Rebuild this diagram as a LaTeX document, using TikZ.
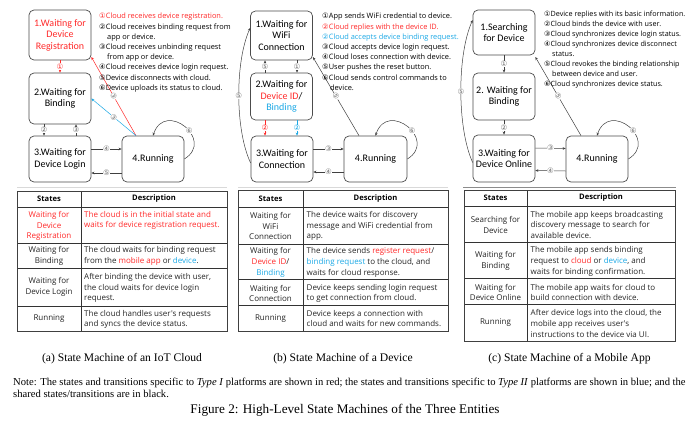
\documentclass[tikz,border=0pt]{standalone}
\usepackage{fontspec}
\setmainfont{Liberation Serif}
\newfontfamily\boxfont{Carlito}
\newfontfamily\tabfont{Open Sans}
\newfontfamily\symfont{DejaVu Sans}
\usetikzlibrary{calc,arrows.meta}
\definecolor{myred}{HTML}{FF2A2A}
\definecolor{myblue}{HTML}{1CA9E6}
\newcommand{\cnum}[1]{{\symfont #1}}
\newcommand{\rd}[1]{{\color{myred}#1}}
\newcommand{\bl}[1]{{\color{myblue}#1}}
\begin{document}
\begin{tikzpicture}[x=1pt,y=-1pt,
  state/.style={draw=black!70, line width=0.7pt, rounded corners=5pt, align=center,
    font=\boxfont\fontsize{10}{11.5}\selectfont, inner sep=0pt, minimum width=62pt},
  tr/.style={draw=black!75, line width=0.5pt, -{Stealth[length=3pt,width=2.6pt]}},
  trred/.style={tr, draw=myred},
  trblue/.style={tr, draw=myblue},
  lab/.style={font=\symfont\fontsize{7.5}{7.5}\selectfont, text=black!55, fill=white, inner sep=0.2pt},
  labred/.style={lab, text=myred},
  labblue/.style={lab, text=myblue},
  list/.style={font=\tabfont\fontsize{7.4}{10.2}\selectfont, align=left, inner sep=0pt, anchor=north west},
  tabouter/.style={draw=black!75, line width=1pt},
  tabinner/.style={draw=black!80, line width=0.5pt},
  tcell/.style={font=\tabfont\fontsize{8}{10.8}\selectfont, align=center, inner sep=0pt, text=black!85},
  tdesc/.style={tcell, align=left, anchor=west},
  thead/.style={font=\tabfont\bfseries\fontsize{7.6}{10.8}\selectfont, inner sep=0pt},
  sepline/.style={draw=black!15, line width=0.6pt},
  captxt/.style={font=\fontsize{11.6}{13}\selectfont, inner sep=0pt}
]
\fill[white] (0,0) rectangle (690,434);
\useasboundingbox (0,0) rectangle (690,434);

% ================= (a) =================
\node[state, minimum height=50pt, text=myred] (A1) at (60,35) {1.Waiting for\\Device\\Registration};
\node[state, minimum height=51pt] (A2) at (60,98.5) {2.Waiting for\\Binding};
\node[state, minimum height=46pt] (A3) at (60,159) {3.Waiting for\\Device Login};
\node[state, minimum height=46pt] (A4) at (153,159) {4.Running};

\draw[trred] (A1.south) -- (A2.north) node[midway, labred] {①};
\draw[tr] ([xshift=-16pt]A2.south) -- ([xshift=-16pt]A3.north) node[midway, lab] {②};
\draw[tr] ([xshift=16pt]A3.north) -- ([xshift=16pt]A2.south) node[midway, lab] {③};
\draw[tr] ([yshift=10pt]A3.east) -- ([yshift=10pt]A4.west) node[midway, lab] {④};
\draw[tr] ([yshift=-14pt]A4.west) -- ([yshift=-14pt]A3.east) node[midway, lab] {⑤};
\draw[tr] (A4.east) .. controls ($(A4.east)+(31,-19)$) and ($(A4.north)+(12,-36)$) .. (A4.north) node[pos=0.42, lab] {⑥};
\draw[trred] ([xshift=-17pt]A4.north) -- ([yshift=-22pt]A1.east) node[midway, lab, sloped] {③};
\draw[trblue] ([xshift=-17pt]A4.north) -- (A2.east) node[midway, lab, sloped] {③};

\node[list] (LA) at (99,13) {%
\rd{\cnum{①}Cloud receives device registration.}\\
\cnum{②}Cloud receives binding request from\\
\hspace*{8pt}app or device.\\
\cnum{③}Cloud receives unbinding request\\
\hspace*{8pt}from app or device.\\
\cnum{④}Cloud receives device login request.\\
\cnum{⑤}Device disconnects with cloud.\\
\cnum{⑥}Device uploads its status to cloud.};

% ================= (b) =================
\node[state, minimum height=49pt] (B1) at (281.5,35.5) {1.Waiting for\\WiFi\\Connection};
\node[state, minimum height=47pt] (B2) at (281.5,96.5) {2.Waiting for\\\rd{Device ID}/\\\bl{Binding}};
\node[state, minimum height=46pt] (B3) at (282,159) {3.Waiting for\\Connection};
\node[state, minimum height=46pt, minimum width=63pt] (B4) at (375.5,159) {4.Running};

\draw[tr] ([xshift=15.5pt]B1.south) -- ([xshift=15.5pt]B2.north) node[midway, lab] {①};
\draw[tr] ([xshift=-16.5pt]B2.north) -- ([xshift=-16.5pt]B1.south) node[midway, lab] {⑤};
\draw[trred] ([xshift=-16.5pt]B2.south) -- ([xshift=-17pt]B3.north) node[midway, labred] {②};
\draw[trblue] ([xshift=15.5pt]B2.south) -- ([xshift=15pt]B3.north) node[midway, labblue] {②};
\draw[tr] ([yshift=10pt]B3.east) -- ([yshift=10pt]B4.west) node[midway, lab] {③};
\draw[tr] ([yshift=-13pt]B4.west) -- ([yshift=-13pt]B3.east) node[midway, lab] {④};
\draw[tr] (B4.east) .. controls ($(B4.east)+(31,-19)$) and ($(B4.north)+(12,-36)$) .. (B4.north) node[pos=0.42, lab] {⑥};
\draw[tr] ([yshift=-4pt]B3.west) .. controls (235,130) and (235,62) .. ([yshift=7.5pt]B1.west) node[pos=0.5, lab] {⑤};
\draw[tr] ([xshift=-16.5pt]B4.north) -- ([yshift=-21.5pt]B1.east) node[midway, lab, sloped] {⑤};

\node[list] (LB) at (322,13) {%
\cnum{①}App sends WiFi credential to device.\\
\rd{\cnum{②}Cloud replies with the device ID.}\\
\bl{\cnum{②}Cloud accepts device binding request.}\\
\cnum{③}Cloud accepts device login request.\\
\cnum{④}Cloud loses connection with device.\\
\cnum{⑤}User pushes the reset button.\\
\cnum{⑥}Cloud sends control commands to\\
\hspace*{8pt}device.};

% ================= (c) =================
\node[state, minimum height=45pt] (C1) at (504,32.5) {1.Searching\\for Device};
\node[state, minimum height=47pt] (C2) at (504,96.5) {2. Waiting for\\Binding};
\node[state, minimum height=47pt] (C3) at (504,158.5) {3.Waiting for\\Device Online};
\node[state, minimum height=46pt] (C4) at (597,159) {4.Running};

\draw[tr] (C1.south) -- (C2.north) node[midway, lab] {①};
\draw[tr] (C2.south) -- (C3.north) node[midway, lab] {②};
\draw[tr] ([yshift=10.5pt]C3.east) -- ([yshift=10.5pt]C4.west) node[midway, lab] {③};
\draw[tr] ([yshift=-12pt]C4.west) -- ([yshift=-12pt]C3.east) node[midway, lab] {④};
\draw[tr] (C4.east) .. controls ($(C4.east)+(31,-19)$) and ($(C4.north)+(12,-36)$) .. (C4.north) node[pos=0.42, lab] {⑥};
\draw[tr] ([yshift=-4pt]C3.west) .. controls (457,128) and (457,55) .. ([yshift=12.5pt]C1.west) node[pos=0.5, lab] {⑤};
\draw[tr] ([xshift=-16pt]C4.north) -- ([yshift=-24.5pt]C1.east) node[midway, lab, sloped] {⑤};

\node[list, font=\tabfont\fontsize{7.2}{10}\selectfont] (LC) at (544,11) {%
\cnum{①}Device replies with its basic information.\\
\cnum{②}Cloud binds the device with user.\\
\cnum{③}Cloud synchronizes device login status.\\
\cnum{④}Cloud synchronizes device disconnect\\
\hspace*{8pt}status.\\
\cnum{⑤}Cloud revokes the binding relationship\\
\hspace*{8pt}between device and user.\\
\cnum{⑥}Cloud synchronizes device status.};

% separators
\draw[sepline] (17,187) -- (227,187);
\draw[sepline] (238,187) -- (448,187);
\draw[sepline, draw=black!45] (463,187) -- (676,187);

% ================= table (a) =================
\draw[tabinner] (81,191) -- (81,331);
\foreach \yy in {207,243,268,306} \draw[tabinner] (17,\yy) -- (227,\yy);
\draw[tabouter] (17,191) rectangle (227,331);
\node[thead] (TAh1) at (49,199) {States};
\node[thead] (TAh2) at (154,199) {Description};
\node[tcell, text=myred] (TAs1) at (49,226) {Waiting for\\Device\\Registration};
\node[tdesc, text=myred] (TAd1) at (84,220.5) {The cloud is in the initial state and\\waits for device registration request.};
\node[tcell] (TAs2) at (49,256) {Waiting for\\Binding};
\node[tdesc] (TAd2) at (84,256) {The cloud waits for binding request\\from the \rd{mobile app} or \bl{device}.};
\node[tcell] (TAs3) at (49,287) {Waiting for\\Device Login};
\node[tdesc] (TAd3) at (84,288) {After binding the device with user,\\the cloud waits for device login\\request.};
\node[tcell] (TAs4) at (49,319) {Running};
\node[tdesc] (TAd4) at (84,319.5) {The cloud handles user's requests\\and syncs the device status.};

% ================= table (b) =================
\draw[tabinner] (303,190) -- (303,331);
\foreach \yy in {207,244,279,305} \draw[tabinner] (238,\yy) -- (448,\yy);
\draw[tabouter] (238,190) rectangle (448,331);
\node[thead] (TBh1) at (270.5,198.5) {States};
\node[thead] (TBh2) at (375.5,198.5) {Description};
\node[tcell] (TBs1) at (270.5,226) {Waiting for\\WiFi\\Connection};
\node[tdesc] (TBd1) at (306.5,226) {The device waits for discovery\\message and WiFi credential from\\app.};
\node[tcell] (TBs2) at (270.5,262.5) {Waiting for\\\rd{Device ID}/\\\bl{Binding}};
\node[tdesc] (TBd2) at (306.5,262.5) {The device sends \rd{register request}/\\\bl{binding request} to the cloud, and\\waits for cloud response.};
\node[tcell] (TBs3) at (270.5,293.5) {Waiting for\\Connection};
\node[tdesc] (TBd3) at (306.5,293.5) {Device keeps sending login request\\to get connection from cloud.};
\node[tcell] (TBs4) at (270.5,319) {Running};
\node[tdesc] (TBd4) at (306.5,318.5) {Device keeps a connection with\\cloud and waits for new commands.};

% ================= table (c) =================
\draw[tabinner] (527,190) -- (527,341);
\foreach \yy in {206,242,278,304} \draw[tabinner] (464,\yy) -- (675,\yy);
\draw[tabouter] (464,190) rectangle (675,341);
\node[thead] (TCh1) at (495.5,198) {States};
\node[thead] (TCh2) at (601,198) {Description};
\node[tcell] (TCs1) at (495.5,225) {Searching for\\Device};
\node[tdesc] (TCd1) at (530.5,225) {The mobile app keeps broadcasting\\discovery message to search for\\available device.};
\node[tcell] (TCs2) at (495.5,261) {Waiting for\\Binding};
\node[tdesc] (TCd2) at (530.5,261.5) {The mobile app sends binding\\request to \rd{cloud} or \bl{device}, and\\waits for binding confirmation.};
\node[tcell] (TCs3) at (495.5,292.5) {Waiting for\\Device Online};
\node[tdesc] (TCd3) at (530.5,292.5) {The mobile app waits for cloud to\\build connection with device.};
\node[tcell] (TCs4) at (495.5,323) {Running};
\node[tdesc] (TCd4) at (530.5,323.5) {After device logs into the cloud, the\\mobile app receives user's\\instructions to the device via UI.};

% ================= captions =================
\node[captxt] (CA) at (122,359) {(a) State Machine of an IoT Cloud};
\node[captxt] (CB) at (343,359) {(b) State Machine of a Device};
\node[captxt] (CC) at (569.5,359) {(c) State Machine of a Mobile App};
\node[font=\fontsize{10.6}{12}\selectfont, align=left, inner sep=0pt, anchor=west] (NOTE) at (13,388) {Note: The states and transitions specific to \textit{Type I} platforms are shown in red; the states and transitions specific to \textit{Type II} platforms are shown in blue; and the\\shared states/transitions are in black.};
\node[font=\fontsize{13.2}{15}\selectfont, inner sep=0pt] (FIG) at (345,410) {Figure 2: High-Level State Machines of the Three Entities};
\end{tikzpicture}
\end{document}
